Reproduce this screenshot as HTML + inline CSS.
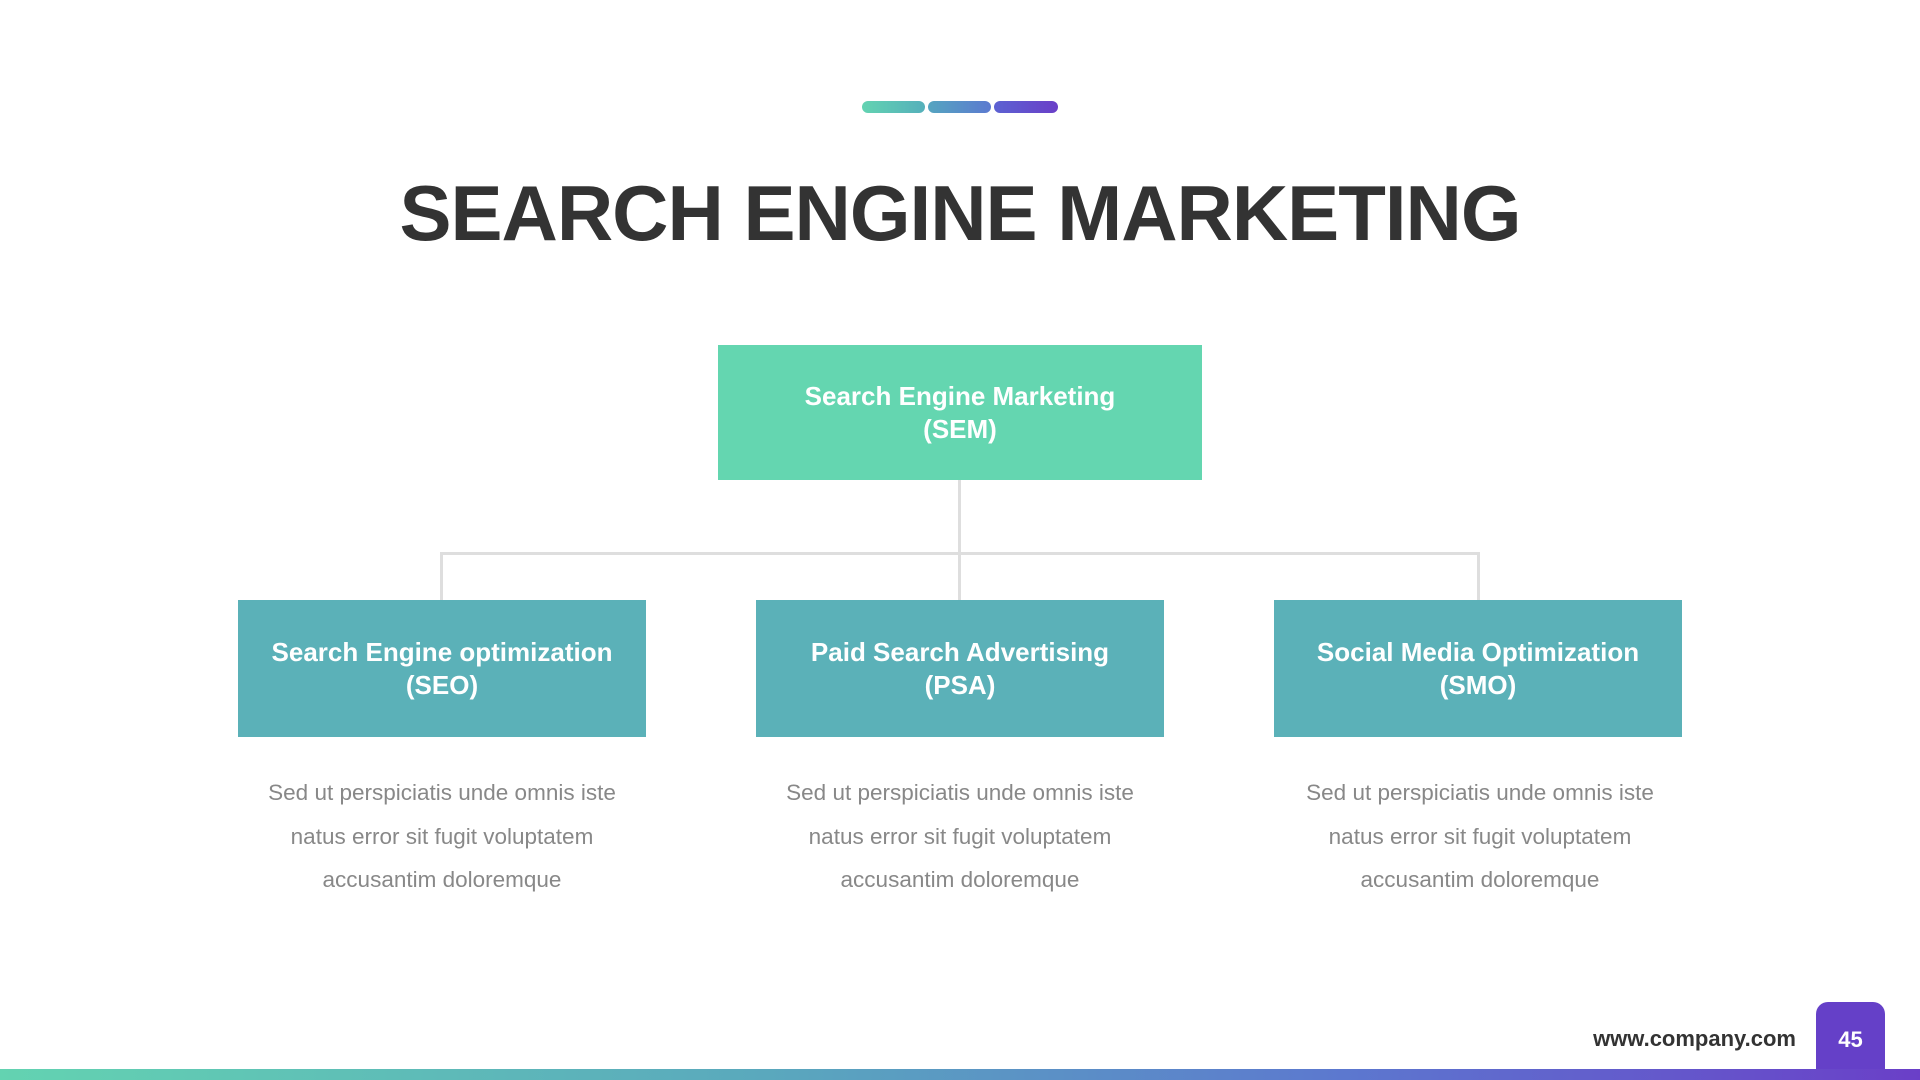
<!DOCTYPE html>
<html><head><meta charset="utf-8"><style>
body{margin:0;width:1920px;height:1080px;background:#fff;position:relative;overflow:hidden;font-family:"Liberation Sans",sans-serif}
.a{position:absolute}
.bar{top:101px;height:12px;border-radius:6px}
.box{position:absolute;display:flex;align-items:center;justify-content:center;text-align:center;color:#fff;font-weight:bold;font-size:26px;line-height:33px}
.txt{position:absolute;width:380px;text-align:center;color:#888;font-size:22.5px;line-height:43.5px}
.ln{position:absolute;background:#dedede}
</style></head><body>
<div class="a bar" style="left:862px;width:63px;background:linear-gradient(90deg,#63d3b1,#55b0bb)"></div>
<div class="a bar" style="left:928px;width:63px;background:linear-gradient(90deg,#55a5c0,#5c7ad0)"></div>
<div class="a bar" style="left:994px;width:64px;background:linear-gradient(90deg,#5c62d2,#6a3fc8)"></div>
<div class="a" style="left:0;width:1920px;top:163px;text-align:center;font-size:78px;font-weight:bold;color:#333;line-height:100px;letter-spacing:-1px">SEARCH ENGINE MARKETING</div>
<div class="box" style="left:718px;top:345px;width:484px;height:135px;background:#64d6b0">Search Engine Marketing<br>(SEM)</div>
<div class="ln" style="left:958px;top:480px;width:3px;height:120px"></div>
<div class="ln" style="left:440px;top:552px;width:1040px;height:3px"></div>
<div class="ln" style="left:440px;top:552px;width:3px;height:48px"></div>
<div class="ln" style="left:1477px;top:552px;width:3px;height:48px"></div>
<div class="box" style="left:238px;top:600px;width:408px;height:137px;background:#5bb1b8">Search Engine optimization<br>(SEO)</div>
<div class="box" style="left:756px;top:600px;width:408px;height:137px;background:#5bb1b8">Paid Search Advertising<br>(PSA)</div>
<div class="box" style="left:1274px;top:600px;width:408px;height:137px;background:#5bb1b8">Social Media Optimization<br>(SMO)</div>
<div class="txt" style="left:252px;top:771px">Sed ut perspiciatis unde omnis iste natus error sit fugit voluptatem accusantim doloremque</div>
<div class="txt" style="left:770px;top:771px">Sed ut perspiciatis unde omnis iste natus error sit fugit voluptatem accusantim doloremque</div>
<div class="txt" style="left:1290px;top:771px">Sed ut perspiciatis unde omnis iste natus error sit fugit voluptatem accusantim doloremque</div>
<div class="a" style="left:1560px;width:236px;text-align:right;top:1026px;font-size:22px;font-weight:bold;color:#333">www.company.com</div>
<div class="a" style="left:1816px;top:1002px;width:69px;height:78px;background:#6540c8;border-radius:12px 12px 0 0;color:#fff;font-weight:bold;font-size:22px;text-align:center;line-height:76px">45</div>
<div class="a" style="left:0;top:1069px;width:1920px;height:11px;background:linear-gradient(90deg,#63d3b1,#5aa8bd 40%,#5c78cf 70%,#6a3fc8)"></div>
</body></html>
